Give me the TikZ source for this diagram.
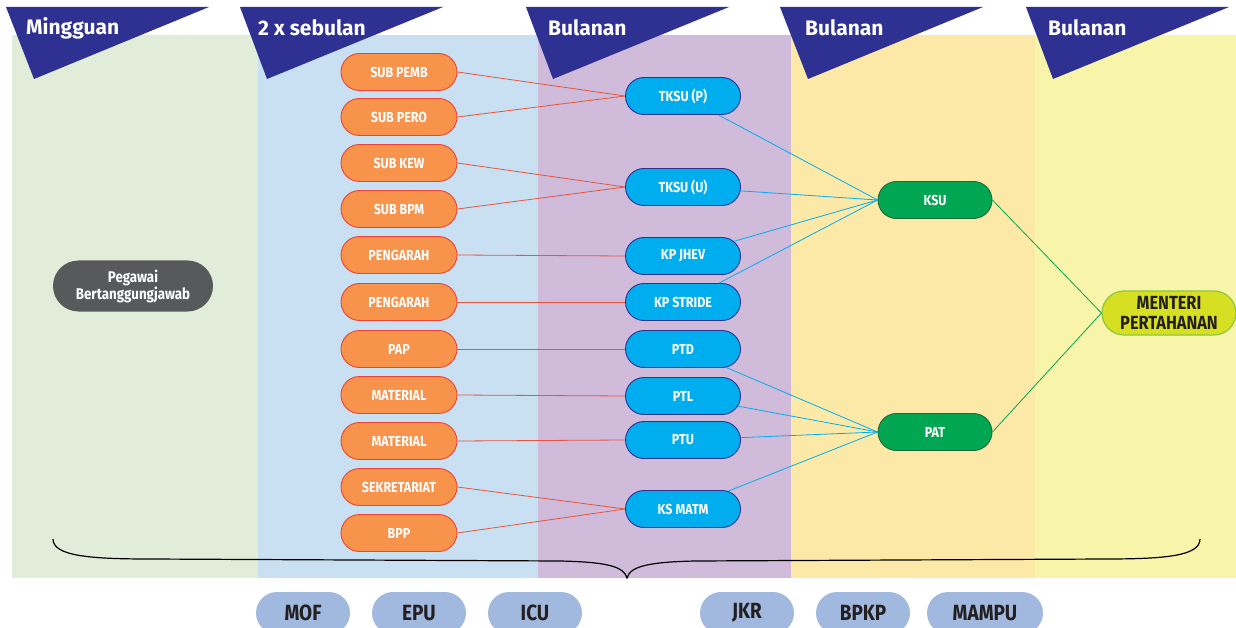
\documentclass[tikz,border=0pt]{standalone}
\usepackage{fontspec}
\setmainfont[FakeStretch=0.86]{Fira Sans}
\newfontfamily\headfont{Fira Sans}
\usetikzlibrary{shapes.misc}
\definecolor{bgA}{HTML}{E2EDD9}
\definecolor{bgB}{HTML}{C9DFF2}
\definecolor{bgC}{HTML}{D0BBDB}
\definecolor{bgD}{HTML}{FCE9A8}
\definecolor{bgE}{HTML}{F8F5AA}
\definecolor{navy}{HTML}{2E3192}
\definecolor{orfill}{HTML}{F7934B}
\definecolor{ordraw}{HTML}{EF4136}
\definecolor{orline}{HTML}{E8553A}
\definecolor{blfill}{HTML}{00AEEF}
\definecolor{bldraw}{HTML}{2E3192}
\definecolor{grfill}{HTML}{00A651}
\definecolor{grdraw}{HTML}{1E6B3A}
\definecolor{limefill}{HTML}{D7DF23}
\definecolor{limedraw}{HTML}{8DC63F}
\definecolor{darkgray}{HTML}{58595B}
\definecolor{pillbg}{HTML}{A2B9DF}
\definecolor{inkdark}{HTML}{231F20}
\tikzset{
  pill/.style={rounded rectangle, minimum height=37, inner sep=0pt, text=white,
    font=\bfseries\fontsize{14.5}{15}\selectfont, line width=0.9pt},
  orpill/.style={pill, fill=orfill, draw=ordraw, minimum width=116},
  blpill/.style={pill, fill=blfill, draw=bldraw, minimum width=115},
  grpill/.style={pill, fill=grfill, draw=grdraw, minimum width=114},
  headtxt/.style={anchor=west, text=white, font=\headfont\bfseries\fontsize{21}{22}\selectfont, inner sep=0pt},
  botpill/.style={rounded rectangle, fill=pillbg, minimum height=42, inner sep=0pt,
    text=inkdark, font=\bfseries\fontsize{22}{23}\selectfont},
  orconn/.style={draw=orline, line width=0.8pt},
  blconn/.style={draw=blfill, line width=0.8pt},
  grconn/.style={draw=grfill, line width=0.8pt},
}
\begin{document}
\begin{tikzpicture}[x=1pt,y=-1pt]
\clip (0,0) rectangle (1236,628);
\fill[white] (0,0) rectangle (1236,628);
% column backgrounds
\fill[bgA] (12,35) rectangle (258,578);
\fill[bgB] (258,35) rectangle (538,578);
\fill[bgC] (538,35) rectangle (791,578);
\fill[bgD] (791,35) rectangle (1035,578);
\fill[bgE] (1035,35) rectangle (1236,578);
% header triangles
\fill[navy] (6,7) -- (209,7) -- (34,79) -- cycle;
\fill[navy] (240,7) -- (443,7) -- (267,79) -- cycle;
\fill[navy] (526,7) -- (729,7) -- (553,79) -- cycle;
\fill[navy] (780,7) -- (983,7) -- (808,79) -- cycle;
\fill[navy] (1026,7) -- (1229,7) -- (1053,79) -- cycle;
\node[headtxt] (h1) at (26,28) {Mingguan};
\node[headtxt] (h2) at (258,28) {2 x sebulan};
\node[headtxt] (h3) at (548,28) {Bulanan};
\node[headtxt] (h4) at (805,28) {Bulanan};
\node[headtxt] (h5) at (1048,28) {Bulanan};
% brace
\draw[black, line width=1.2pt] (53,539) .. controls (53,556) and (90,559) .. (150,559)
  -- (560,561) .. controls (605,562) and (624,566) .. (627,578)
  .. controls (630,566) and (650,562) .. (695,561)
  -- (1105,559) .. controls (1165,559) and (1200,556) .. (1200,539);
% left node
\node[rounded rectangle, fill=darkgray, minimum width=160, minimum height=51, inner sep=0pt,
  text=white, align=center, font=\bfseries\fontsize{15.5}{16}\selectfont] (peg) at (133,286)
  {Pegawai\\Bertanggungjawab};
% orange nodes
\node[orpill] (o1) at (399,72) {SUB PEMB};
\node[orpill] (o2) at (399,117) {SUB PERO};
\node[orpill] (o3) at (399,163) {SUB KEW};
\node[orpill] (o4) at (399,209) {SUB BPM};
\node[orpill] (o5) at (399,255) {PENGARAH};
\node[orpill] (o6) at (399,302) {PENGARAH};
\node[orpill] (o7) at (399,349) {PAP};
\node[orpill] (o8) at (399,395) {MATERIAL};
\node[orpill] (o9) at (399,441) {MATERIAL};
\node[orpill] (o10) at (399,487) {SEKRETARIAT};
\node[orpill] (o11) at (399,533) {BPP};
% blue nodes
\node[blpill] (b1) at (683,96) {TKSU (P)};
\node[blpill] (b2) at (683,187) {TKSU (U)};
\node[blpill] (b3) at (683,256) {KP JHEV};
\node[blpill] (b4) at (683,302) {KP STRIDE};
\node[blpill] (b5) at (683,349) {PTD};
\node[blpill] (b6) at (683,396) {PTL};
\node[blpill] (b7) at (683,440) {PTU};
\node[blpill] (b8) at (683,509) {KS MATM};
% green nodes
\node[grpill] (ksu) at (935,200) {KSU};
\node[grpill] (pat) at (935,432) {PAT};
\node[rounded rectangle, fill=limefill, draw=limedraw, line width=1.2pt, minimum width=134,
  minimum height=44, inner sep=0pt, text=inkdark, align=center,
  font=\bfseries\fontsize{19}{20}\selectfont] (men) at (1169,313) {MENTERI\\PERTAHANAN};
% orange connectors
\draw[orconn] (o1.east) -- (b1.west);
\draw[orconn] (o2.east) -- (b1.west);
\draw[orconn] (o3.east) -- (b2.west);
\draw[orconn] (o4.east) -- (b2.west);
\draw[orconn] (o5.east) -- (b3.west);
\draw[orconn] (o6.east) -- (b4.west);
\draw[orconn] (o7.east) -- (b5.west);
\draw[orconn] (o8.east) -- (b6.west);
\draw[orconn] (o9.east) -- (b7.west);
\draw[orconn] (o10.east) -- (b8.west);
\draw[orconn] (o11.east) -- (b8.west);
% blue connectors
\draw[blconn] (b1) -- (ksu.west);
\draw[blconn] (b2) -- (ksu.west);
\draw[blconn] (b3) -- (ksu.west);
\draw[blconn] (b4) -- (ksu.west);
\draw[blconn] (b5) -- (pat.west);
\draw[blconn] (b6) -- (pat.west);
\draw[blconn] (b7) -- (pat.west);
\draw[blconn] (b8) -- (pat.west);
% green connectors
\draw[grconn] (ksu.east) -- (men.west);
\draw[grconn] (pat.east) -- (men.west);
% bottom pills
\node[botpill, minimum width=94] (mof) at (303,613) {MOF};
\node[botpill, minimum width=94] (epu) at (419,613) {EPU};
\node[botpill, minimum width=94] (icu) at (535,613) {ICU};
\node[botpill, minimum width=94] (jkr) at (747,613) {JKR};
\node[botpill, minimum width=94] (bpkp) at (863,613) {BPKP};
\node[botpill, minimum width=116] (mampu) at (985,613) {MAMPU};
\end{tikzpicture}
\end{document}
